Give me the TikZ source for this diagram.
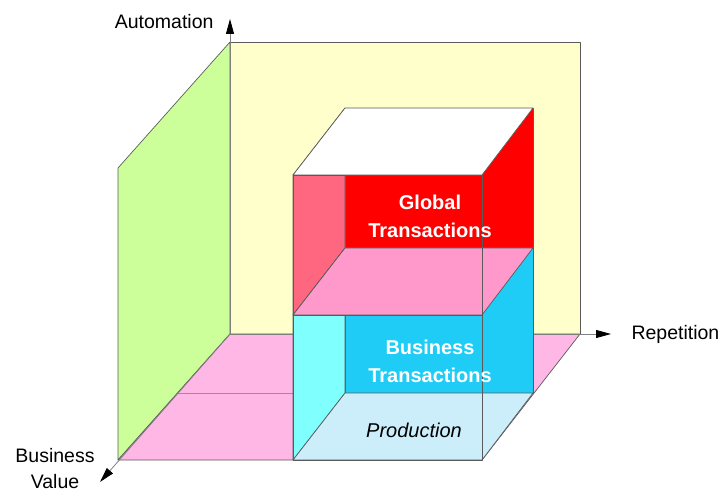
\documentclass[tikz,border=0pt]{standalone}
\usepackage{xcolor}
\usepackage{fontspec}
\setmainfont{Liberation Sans}
\usepackage{tikz}
\usetikzlibrary{arrows.meta}

\definecolor{wallyellow}{RGB}{255,255,204}
\definecolor{wallgreen}{RGB}{204,255,153}
\definecolor{floorpink}{RGB}{255,184,230}
\definecolor{globred}{RGB}{255,0,0}
\definecolor{globside}{RGB}{255,102,128}
\definecolor{midpink}{RGB}{255,153,204}
\definecolor{busblue}{RGB}{30,204,245}
\definecolor{busside}{RGB}{128,255,255}
\definecolor{prodblue}{RGB}{204,238,250}
\definecolor{edgegray}{RGB}{90,90,90}
\definecolor{floorline}{RGB}{185,125,165}

\begin{document}
\begin{tikzpicture}[x=1pt, y=-1pt,
    face/.style={draw=edgegray, line width=0.7pt, line join=round},
    axis/.style={draw=gray, line width=0.8pt, -{Triangle[length=15pt,width=8pt,black]}},
    axislabel/.style={font=\fontsize{19.5}{26}\selectfont, align=center},
    boxlabel/.style={font=\fontsize{20}{28}\selectfont\bfseries, text=white, align=center}]
    \useasboundingbox (0,0) rectangle (723,494);

    % corners of the three walls
    \coordinate (O) at (230,334);
    \coordinate (autotip) at (230,19);
    \coordinate (reptip) at (611,334);
    \coordinate (valtip) at (100,482);

    \filldraw[face, fill=wallyellow] (230,42) -- (580,42) -- (580,334) -- (230,334) -- cycle;
    \filldraw[face, fill=wallgreen] (230,42) -- (118,168) -- (118,460) -- (230,334) -- cycle;
    \filldraw[face, fill=floorpink] (230,334) -- (580,334) -- (482,460) -- (118,460) -- cycle;
    \draw[floorline, line width=1pt] (178,393) -- (293,393);

    \draw[axis] (O) -- (autotip);
    \draw[axis] (O) -- (reptip);
    \draw[axis] (O) -- (valtip);

    % back faces of the box
    \filldraw[face, fill=globred] (345,108) rectangle (533,248);
    \filldraw[face, fill=busblue] (345,248) rectangle (533,393);
    \filldraw[face, fill=globside] (293,175) -- (345,108) -- (345,248) -- (293,315) -- cycle;
    \filldraw[face, fill=busside] (293,315) -- (345,248) -- (345,393) -- (293,460) -- cycle;

    % horizontal planes
    \filldraw[face, fill=white] (293,175) -- (345,108) -- (533,108) -- (482,175) -- cycle;
    \filldraw[face, fill=midpink] (293,315) -- (345,248) -- (533,248) -- (482,315) -- cycle;
    \filldraw[face, fill=prodblue] (293,460) -- (345,393) -- (533,393) -- (482,460) -- cycle;

    % front of the box
    \draw[face] (293,175) rectangle (482,460);
    \draw[face] (293,315) -- (482,315);

    \node[boxlabel] at (430,216) (global) {Global\\Transactions};
    \node[boxlabel] at (430,361) (business) {Business\\Transactions};
    \node[axislabel, font=\fontsize{20}{27}\selectfont\itshape] at (414,430) (production) {Production};

    \node[axislabel, anchor=east] at (217,22) (automation) {Automation};
    \node[axislabel, anchor=west] at (628,334) (repetition) {Repetition};
    \node[axislabel] at (55,469) (value) {Business\\Value};
\end{tikzpicture}
\end{document}
